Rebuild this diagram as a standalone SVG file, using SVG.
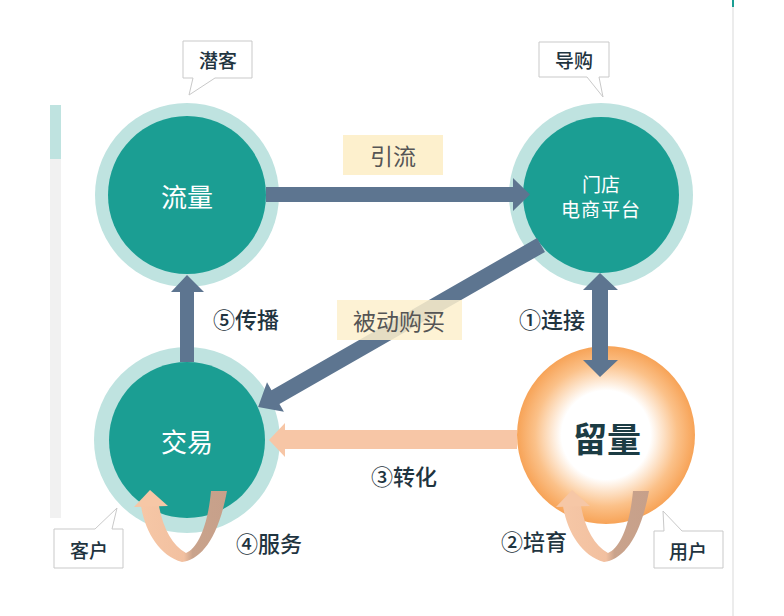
<svg xmlns="http://www.w3.org/2000/svg" xmlns:xlink="http://www.w3.org/1999/xlink" width="784" height="616" viewBox="0 0 784 616">
<style>
.ring{fill:#bfe3e0}
.core{fill:#1b9e93}
.wt{fill:#ffffff;font-family:"Noto Sans CJK SC","Noto Sans",sans-serif;text-anchor:middle;dominant-baseline:central}
.lbl{fill:#1f3440;font-family:"Noto Sans CJK SC","Noto Sans",sans-serif;font-size:22px;font-weight:500;text-anchor:middle;dominant-baseline:central}
.tag{fill:#555555;font-family:"Noto Sans CJK SC","Noto Sans",sans-serif;font-size:23px;text-anchor:middle;dominant-baseline:central}
.tagbox{fill:#fdf0cd}
.call{fill:#ffffff;stroke:#c9c9c9;stroke-width:1}
.ct{fill:#1f3440;font-family:"Noto Sans CJK SC","Noto Sans",sans-serif;font-size:19px;font-weight:500;text-anchor:middle;dominant-baseline:central}
.blue{fill:#5d7590}
.peach{fill:#f7c6a6}
</style>
<defs>
<radialGradient id="orange" cx="0.5" cy="0.5" r="0.5">
<stop offset="0" stop-color="#ffffff"/>
<stop offset="0.5" stop-color="#ffffff"/>
<stop offset="0.8" stop-color="#fbc189"/>
<stop offset="1" stop-color="#f7a357"/>
</radialGradient>
<linearGradient id="ugrad" x1="0" y1="0" x2="1" y2="0">
<stop offset="0" stop-color="#f6c7a6"/>
<stop offset="0.5" stop-color="#f2c0a0"/>
<stop offset="0.6" stop-color="#c9a38c"/>
<stop offset="1" stop-color="#c7a08a"/>
</linearGradient>
<g id="uarrow">
<path d="M141,506 C145,532 160,556 182,562 C200,560 218,540 227,491 L211,491 C208,525 198,548 186,553 C172,545 163,528 159,506 Z" fill="url(#ugrad)"/>
<polygon points="134,507 150,490 168,506" fill="#f6c7a6"/>
</g>
</defs>
<rect width="784" height="616" fill="#ffffff"/>
<g id="frame">
<rect x="50" y="105" width="11" height="413" fill="#f1f1f1"/>
<rect x="50" y="105" width="11" height="54" fill="#bfe3e0"/>
<rect x="732" y="0" width="2" height="616" fill="#ececec"/>
<rect x="732" y="0" width="2" height="7" fill="#1b9e93"/>
</g>
<g id="node-liuliang">
<circle class="ring" cx="187" cy="195" r="92"/>
<circle class="core" cx="187" cy="195" r="79"/>
<text class="wt" x="187" y="195" font-size="26">流量</text>
</g>
<g id="node-mendian">
<circle class="ring" cx="601" cy="195" r="92"/>
<circle class="core" cx="601" cy="195" r="78"/>
<text class="wt" x="601" y="183" font-size="19">门店</text>
<text class="wt" x="601" y="208" font-size="19" letter-spacing="1">电商平台</text>
</g>
<g id="node-jiaoyi">
<circle class="ring" cx="187" cy="440" r="93"/>
<circle class="core" cx="187" cy="440" r="78"/>
<text class="wt" x="187" y="440" font-size="26">交易</text>
</g>
<g id="node-liuliang2">
<circle cx="606" cy="435" r="89" fill="url(#orange)"/>
<text x="607" y="437" font-size="34" font-weight="bold" fill="#1c3c44" font-family="&quot;Noto Sans CJK SC&quot;,&quot;Noto Sans&quot;,sans-serif" text-anchor="middle" dominant-baseline="central">留量</text>
</g>
<g id="connectors">
<polygon class="blue" points="266,187 513,187 513,178 530,194.5 513,211 513,202 266,202"/>
<g transform="translate(541,245) rotate(150.2)">
<polygon class="blue" points="0,-8 306,-8 306,-17 326,0 306,17 306,8 0,8"/>
</g>
<polygon class="blue" points="180,362 180,292 171,292 187,275 204,292 194,292 194,362"/>
<polygon class="blue" points="592,290 583,290 600,273 618,290 608,290 608,360 618,360 600,377 583,360 592,360"/>
<polygon class="peach" points="517,430 285,430 285,423 269,440 285,457 285,449 517,449"/>
<use xlink:href="#uarrow"/>
<use xlink:href="#uarrow" x="422"/>
</g>
<g id="label-yinliu">
<rect class="tagbox" x="343" y="135" width="100" height="40"/>
<text class="tag" x="393" y="155">引流</text>
</g>
<g id="label-beidong">
<rect class="tagbox" x="337" y="300" width="125" height="40" opacity="0.85"/>
<text class="tag" x="399" y="320">被动购买</text>
</g>
<g id="steps">
<text class="lbl" x="246" y="318">⑤传播</text>
<text class="lbl" x="552" y="318">①连接</text>
<text class="lbl" x="404" y="475">③转化</text>
<text class="lbl" x="269" y="542">④服务</text>
<text class="lbl" x="534" y="540">②培育</text>
</g>
<g id="callout-qianke">
<path class="call" d="M183,41 H252 V78 H215 L189,95 L193,78 H183 Z"/>
<text class="ct" x="218" y="59">潜客</text>
</g>
<g id="callout-daogou">
<path class="call" d="M539,42 H609 V77 H599 L603,97 L587,77 H539 Z"/>
<text class="ct" x="574" y="59">导购</text>
</g>
<g id="callout-kehu">
<path class="call" d="M54,529 H95 L117,508 L112,529 H123 V568 H54 Z"/>
<text class="ct" x="89" y="549">客户</text>
</g>
<g id="callout-yonghu">
<path class="call" d="M654,531 H664 L663,511 L682,531 H723 V568 H654 Z"/>
<text class="ct" x="688" y="550">用户</text>
</g>
</svg>
